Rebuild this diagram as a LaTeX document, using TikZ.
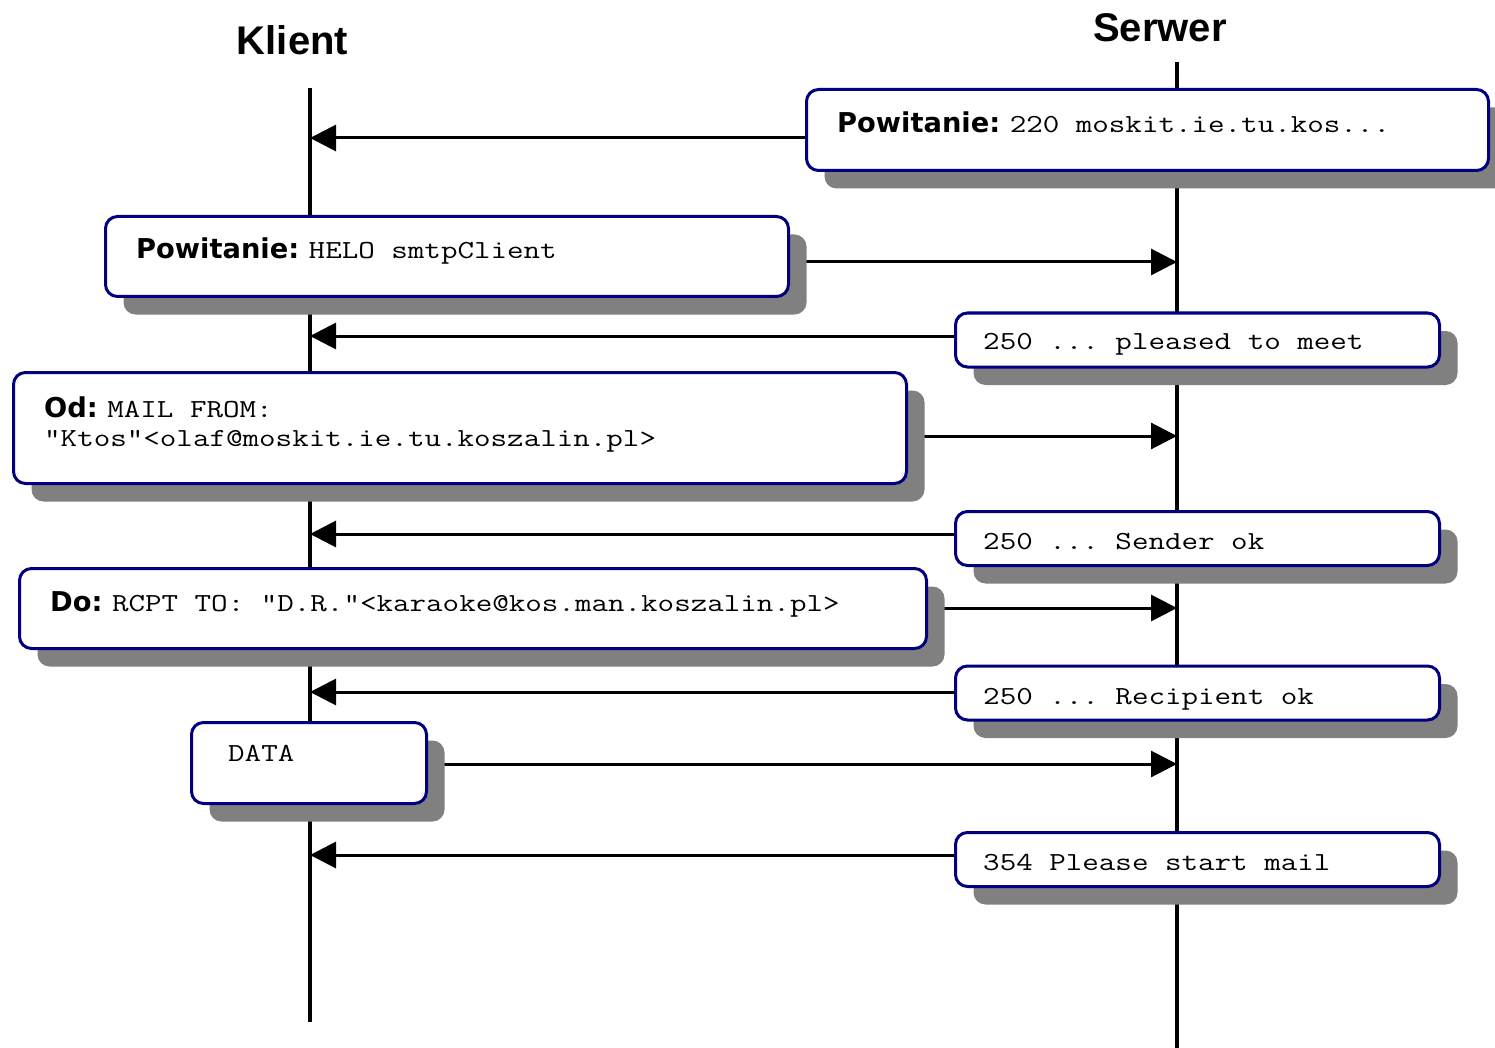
\documentclass[tikz,border=0pt]{standalone}
\usepackage{fontspec}
\usetikzlibrary{arrows.meta,shadows,backgrounds}
\newfontfamily\titlefont{Liberation Sans}
\newfontfamily\fieldfont{DejaVu Sans}
\newfontfamily\codefont{Latin Modern Mono}[FakeStretch=1.235]
\definecolor{boxnavy}{RGB}{0,0,128}
\definecolor{shadowgray}{RGB}{128,128,128}
\newcommand\fieldname[1]{{\fieldfont\bfseries\fontsize{27.3}{32}\selectfont #1}}
\tikzset{
  lifeline/.style={line width=4pt},
  msg/.style={line width=3pt, -{Triangle[length=26pt,width=26pt]}},
  msgbox/.style={draw=boxnavy, line width=3pt, fill=white, rounded corners=12pt,
    inner sep=0pt,
    drop shadow={shadow xshift=18pt, shadow yshift=-18pt, fill=shadowgray, opacity=1}},
  reply/.style={msgbox, minimum width=484pt, minimum height=54pt},
  title/.style={font=\titlefont\bfseries\fontsize{40}{48}\selectfont, inner sep=0pt, anchor=base},
  txt/.style={font=\codefont\fontsize{26}{30}\selectfont\frenchspacing, inner sep=0pt,
    anchor=base west},
}
\begin{document}
\begin{tikzpicture}[x=1pt, y=-1pt]
  \useasboundingbox (0,0) rectangle (1495,1048);

  % participants
  \node[title] (klient) at (292.5,55) {Klient};
  \node[title] (serwer) at (1160,42) {Serwer};

  \coordinate (kTop) at (310,88);
  \coordinate (kBot) at (310,1022);
  \coordinate (sTop) at (1177,62);
  \coordinate (sBot) at (1177,1048);

  % message points on the lifelines
  \coordinate (k1) at (310,138);
  \coordinate (s2) at (1177,262);
  \coordinate (k3) at (310,336);
  \coordinate (s4) at (1177,436);
  \coordinate (k5) at (310,534);
  \coordinate (s6) at (1177,608);
  \coordinate (k7) at (310,692);
  \coordinate (s8) at (1177,764);
  \coordinate (k9) at (310,855);

  % message boxes
  \node[msgbox, minimum width=682pt, minimum height=81pt] (b1) at (1147.5,130) {};
  \node[msgbox, minimum width=683pt, minimum height=80pt] (b2) at (447,256.5) {};
  \node[reply] (b3) at (1197.5,340) {};
  \node[msgbox, minimum width=893pt, minimum height=111pt] (b4) at (460,428) {};
  \node[reply] (b5) at (1197.5,538.5) {};
  \node[msgbox, minimum width=907pt, minimum height=80pt] (b6) at (473,608.5) {};
  \node[reply] (b7) at (1197.5,693) {};
  \node[msgbox, minimum width=235pt, minimum height=81pt] (b8) at (309,763) {};
  \node[reply] (b9) at (1197.5,859.5) {};

  % box texts
  \node[txt] (t1) at (837,133) {\fieldname{Powitanie:~}220 moskit.ie.tu.kos...};
  \node[txt] (t2) at (136,259) {\fieldname{Powitanie:~}HELO smtpClient};
  \node[txt] (t3) at (983,349) {250 ... pleased to meet};
  \node[txt] (t4a) at (44,417) {\fieldname{Od:~}MAIL FROM:};
  \node[txt] (t4b) at (44,446) {"Ktos"<olaf@moskit.ie.tu.koszalin.pl>};
  \node[txt] (t5) at (983,549) {250 ... Sender ok};
  \node[txt] (t6) at (50,611) {\fieldname{Do:~}RCPT TO: "D.R."<karaoke@kos.man.koszalin.pl>};
  \node[txt] (t7) at (983,704) {250 ... Recipient ok};
  \node[txt] (t8) at (228,761) {DATA};
  \node[txt] (t9) at (983,870) {354 Please start mail};

  \begin{scope}[on background layer]
    % lifelines
    \draw[lifeline] (kTop) -- (kBot);
    \draw[lifeline] (sTop) -- (sBot);
    % messages
    \draw[msg] (b1.west |- k1) -- (k1);
    \draw[msg] (b2.east |- s2) -- (s2);
    \draw[msg] (b3.west |- k3) -- (k3);
    \draw[msg] (b4.east |- s4) -- (s4);
    \draw[msg] (b5.west |- k5) -- (k5);
    \draw[msg] (b6.east |- s6) -- (s6);
    \draw[msg] (b7.west |- k7) -- (k7);
    \draw[msg] (b8.east |- s8) -- (s8);
    \draw[msg] (b9.west |- k9) -- (k9);
  \end{scope}
\end{tikzpicture}
\end{document}
